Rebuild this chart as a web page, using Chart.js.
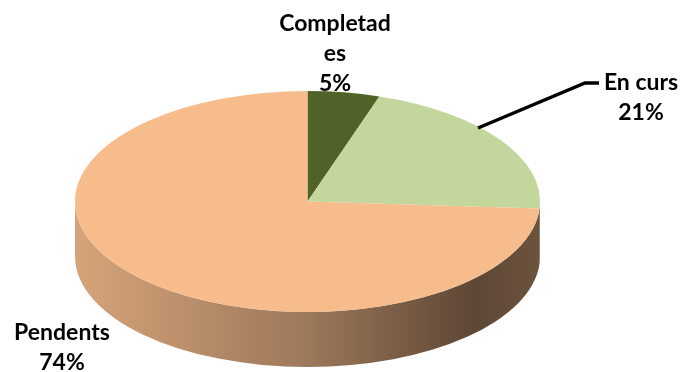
<!DOCTYPE html>
<html>
<head>
<meta charset="utf-8">
<title>Estat de les tasques</title>
<script src="https://cdn.jsdelivr.net/npm/chart.js@4/dist/chart.umd.min.js"></script>
<style>
    html, body { margin: 0; padding: 0; background: #fff; }
    #wrap { width: 681px; height: 372px; position: relative; }
</style>
</head>
<body>
<div id="wrap"><canvas id="chart-estat"></canvas></div>
<script>
// Task status data
const categories = ['Completades', 'En curs', 'Pendents'];
const values = [5, 21, 74];

const sliceColors = ['#4f6228', '#c3d69b', '#f6bc8c'];

// Tilted disc: where the top face sits on the page and how thick the wall is
const DISC = { cx: 307.5, cy: 201.5, rx: 232.5, ry: 110.5, depth: 55 };

// Label placement (centre x, first baseline) and leader line for "En curs"
const LABELS = [
    { x: 335, y: 31, wrap: 122 },
    { x: 641, y: 90, wrap: 200 },
    { x: 62, y: 340, wrap: 200 }
];
const LEADER = [[478, 128], [585, 83], [599, 83]];
const LINE_H = 30;

function shade(hex, f) {
    const n = parseInt(hex.slice(1), 16);
    const r = Math.round(((n >> 16) & 255) * f);
    const g = Math.round(((n >> 8) & 255) * f);
    const b = Math.round((n & 255) * f);
    return `rgb(${r},${g},${b})`;
}

// Break a word into lines no wider than maxW (Excel-style hard wrap)
function wrapText(ctx, text, maxW) {
    const lines = [];
    let cur = '';
    for (const word of text.split(' ')) {
        const test = cur ? cur + ' ' + word : word;
        if (ctx.measureText(test).width <= maxW) { cur = test; continue; }
        if (cur) lines.push(cur);
        cur = '';
        for (const ch of word) {
            if (ctx.measureText(cur + ch).width > maxW && cur) { lines.push(cur); cur = ch; }
            else cur += ch;
        }
    }
    if (cur) lines.push(cur);
    return lines;
}

const pie3d = {
    id: 'pie3d',
    beforeDatasetsDraw(chart) {
        const ctx = chart.ctx;
        const arcs = chart.getDatasetMeta(0).data;
        const { x, y, outerRadius: r } = arcs[0];
        const sx = DISC.rx / r, sy = DISC.ry / r;
        const d = DISC.depth / sy;

        ctx.save();
        ctx.translate(DISC.cx, DISC.cy);
        ctx.scale(sx, sy);
        ctx.translate(-x, -y);

        // front wall, only the half facing the viewer (0..PI)
        arcs.forEach((arc, i) => {
            const a0 = Math.max(arc.startAngle, 0);
            const a1 = Math.min(arc.endAngle, Math.PI);
            if (a1 <= a0) return;
            const base = sliceColors[i];
            const grad = ctx.createLinearGradient(x - r, 0, x + r, 0);
            grad.addColorStop(0, shade(base, 0.87));
            grad.addColorStop(0.5, shade(base, 0.64));
            grad.addColorStop(0.86, shade(base, 0.38));
            grad.addColorStop(1, shade(base, 0.44));
            ctx.beginPath();
            ctx.arc(x, y, r, a0, a1);
            ctx.lineTo(x + r * Math.cos(a1), y + r * Math.sin(a1) + d);
            ctx.arc(x, y + d, r, a1, a0, true);
            ctx.closePath();
            ctx.fillStyle = grad;
            ctx.fill();
        });
    },
    afterDatasetsDraw(chart) {
        chart.ctx.restore();
    },
    afterDraw(chart) {
        const ctx = chart.ctx;
        const total = values.reduce((a, b) => a + b, 0);
        ctx.save();

        // leader line
        ctx.beginPath();
        LEADER.forEach(([px, py], k) => k ? ctx.lineTo(px, py) : ctx.moveTo(px, py));
        ctx.strokeStyle = '#000';
        ctx.lineWidth = 3.5;
        ctx.stroke();

        ctx.font = 'bold 23px Lato';
        ctx.fillStyle = '#000';
        ctx.textAlign = 'center';
        ctx.textBaseline = 'alphabetic';
        categories.forEach((cat, i) => {
            const pos = LABELS[i];
            const lines = wrapText(ctx, cat, pos.wrap);
            lines.push(Math.round(values[i] / total * 100) + '%');
            lines.forEach((ln, k) => ctx.fillText(ln, pos.x, pos.y + k * LINE_H));
        });
        ctx.restore();
    }
};

new Chart(document.getElementById('chart-estat'), {
    type: 'pie',
    data: {
        labels: categories,
        datasets: [{
            data: values,
            backgroundColor: sliceColors,
            borderWidth: 0
        }]
    },
    options: {
        responsive: true,
        maintainAspectRatio: false,
        animation: false,
        events: [],
        plugins: { legend: { display: false }, tooltip: { enabled: false } }
    },
    plugins: [pie3d]
});
</script>
</body>
</html>
